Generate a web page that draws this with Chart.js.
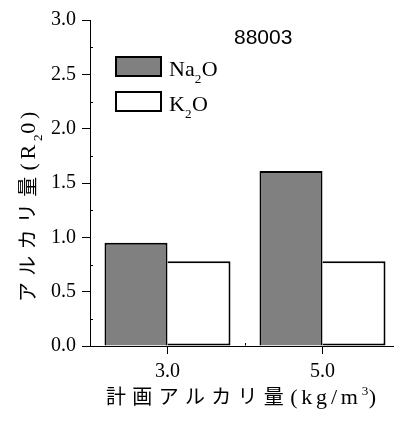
<!DOCTYPE html>
<html>
<head>
<meta charset="utf-8">
<script src="https://cdn.jsdelivr.net/npm/chart.js@4.4.0/dist/chart.umd.min.js"></script>
<style>
  html, body { margin: 0; padding: 0; background: #fff; overflow: hidden; width: 394px; height: 423px; }
  #wrap { width: 400px; height: 423px; }
</style>
</head>
<body>
<div id="wrap"><canvas id="chart" width="400" height="423"></canvas></div>
<script>
// ─── DATA ───
const xValues = [3.0, 5.0];              // 計画アルカリ量 (kg/m3)
const na2oValues = [0.95, 1.61];
const k2oValues = [0.78, 0.78];
const seriesNames = ['Na₂O', 'K₂O'];
const seriesFills = ['#808080', '#ffffff'];
const xTicks = [3.0, 5.0];
const xMinorTicks = [4.0];
const yMinorTicks = [0.25, 0.75, 1.25, 1.75, 2.25, 2.75];
const sampleLabel = '88003';
const xTitle = '計画アルカリ量(kg/m³)';
const yTitle = 'アルカリ量(R₂0)';

const SERIF = '"Liberation Serif", "Noto Sans CJK JP", serif';

// text with sub/superscript digits, drawn char by char
const SUB = { '₂': '2' }, SUP = { '³': '3' };
const isCJK = ch => ch.charCodeAt(0) > 0x2fff;
function richRuns(ctx, text, size, opt) {
  const runs = [];
  let total = 0;
  for (const ch of text) {
    let s = isCJK(ch) ? opt.cjkSize : size, dy = 0, c = ch;
    if (SUB[ch]) { c = SUB[ch]; s = size * 0.6; dy = size * 0.3; }
    if (SUP[ch]) { c = SUP[ch]; s = size * 0.6; dy = -size * 0.4; }
    ctx.font = s + 'px ' + SERIF;
    const w = ctx.measureText(c).width;
    runs.push({ c, s, dy, x: total });
    const sp = isCJK(ch) ? opt.cjkGap : (SUB[ch] || SUP[ch]) ? 0.5 : opt.gap;
    total += w + sp;
  }
  return { runs, width: total };
}
function drawRich(ctx, text, x, y, size, opt, align) {
  const r = richRuns(ctx, text, size, opt);
  const x0 = align === 'center' ? x - r.width / 2 : x;
  ctx.textAlign = 'left';
  ctx.textBaseline = 'alphabetic';
  r.runs.forEach(run => {
    ctx.font = run.s + 'px ' + SERIF;
    ctx.fillText(run.c, x0 + run.x, y + run.dy);
  });
}

const titleOpt = { cjkSize: 20, cjkGap: 6.3, gap: 3.8 };
const legendOpt = { cjkSize: 22, cjkGap: 0, gap: 0 };

const extras = {
  id: 'extras',
  afterDraw(chart) {
    const ctx = chart.ctx, area = chart.chartArea;
    const xs = chart.scales.x, ys = chart.scales.y;
    ctx.save();

    // minor ticks (inside)
    ctx.strokeStyle = '#000';
    ctx.lineWidth = 1;
    ctx.beginPath();
    yMinorTicks.forEach(v => {
      const py = Math.round(ys.getPixelForValue(v)) + 0.5;
      ctx.moveTo(area.left, py); ctx.lineTo(area.left + 3, py);
    });
    xMinorTicks.forEach(v => {
      const px = Math.round(xs.getPixelForValue(v)) + 0.5;
      ctx.moveTo(px, area.bottom - 0.5); ctx.lineTo(px, area.bottom - 3);
    });
    ctx.stroke();

    // legend
    const boxTops = [56, 91];
    const baselines = [76, 111];
    chart.data.datasets.forEach((ds, i) => {
      ctx.fillStyle = ds.backgroundColor;
      ctx.fillRect(115, boxTops[i], 47, 21);
      ctx.strokeStyle = '#000';
      ctx.lineWidth = 2;
      ctx.strokeRect(116, boxTops[i] + 1, 45, 19);
      ctx.fillStyle = '#000';
      drawRich(ctx, ds.label, 169, baselines[i], 22, legendOpt, 'left');
    });

    // sample id
    ctx.font = '21px "Liberation Sans", sans-serif';
    ctx.textAlign = 'left';
    ctx.fillText(sampleLabel, 234, 44);

    // axis titles
    drawRich(ctx, xTitle, 243, 404, 22, titleOpt, 'center');
    ctx.translate(35, 205);
    ctx.rotate(-Math.PI / 2);
    drawRich(ctx, yTitle, 0, 0, 22, titleOpt, 'center');

    ctx.restore();
  }
};

const tickFont = { family: 'Liberation Serif', size: 20 };

new Chart(document.getElementById('chart'), {
  type: 'bar',
  data: {
    datasets: [
      {
        label: seriesNames[0],
        data: xValues.map((x, i) => ({ x, y: na2oValues[i] })),
        backgroundColor: seriesFills[0],
        borderColor: '#000',
        borderWidth: 2,
        borderSkipped: 'bottom'
      },
      {
        label: seriesNames[1],
        data: xValues.map((x, i) => ({ x, y: k2oValues[i] })),
        backgroundColor: seriesFills[1],
        borderColor: '#000',
        borderWidth: 2,
        borderSkipped: 'left'
      }
    ]
  },
  options: {
    responsive: false,
    animation: false,
    categoryPercentage: 0.813,
    barPercentage: 1.0,
    inflateAmount: 0,
    layout: { padding: { top: 20, left: 0, right: 0, bottom: 0 } },
    plugins: { legend: { display: false }, tooltip: { enabled: false } },
    scales: {
      x: {
        type: 'linear',
        min: 2, max: 6,
        offset: false,
        afterBuildTicks: s => { s.ticks = xTicks.map(v => ({ value: v })); },
        afterFit: s => { s.height = 77; },
        grid: { offset: false, drawOnChartArea: false, tickLength: 8, color: '#000' },
        border: { color: '#000', width: 1 },
        ticks: { color: '#000', font: tickFont, padding: 6, maxRotation: 0, autoSkip: false, callback: v => v.toFixed(1) }
      },
      y: {
        min: 0, max: 3,
        afterFit: s => { s.width = 90; },
        grid: { drawOnChartArea: false, tickLength: 8, color: '#000' },
        border: { color: '#000', width: 1 },
        ticks: { stepSize: 0.5, color: '#000', font: tickFont, padding: 6, callback: v => v.toFixed(1) }
      }
    }
  },
  plugins: [extras]
});
</script>
</body>
</html>
